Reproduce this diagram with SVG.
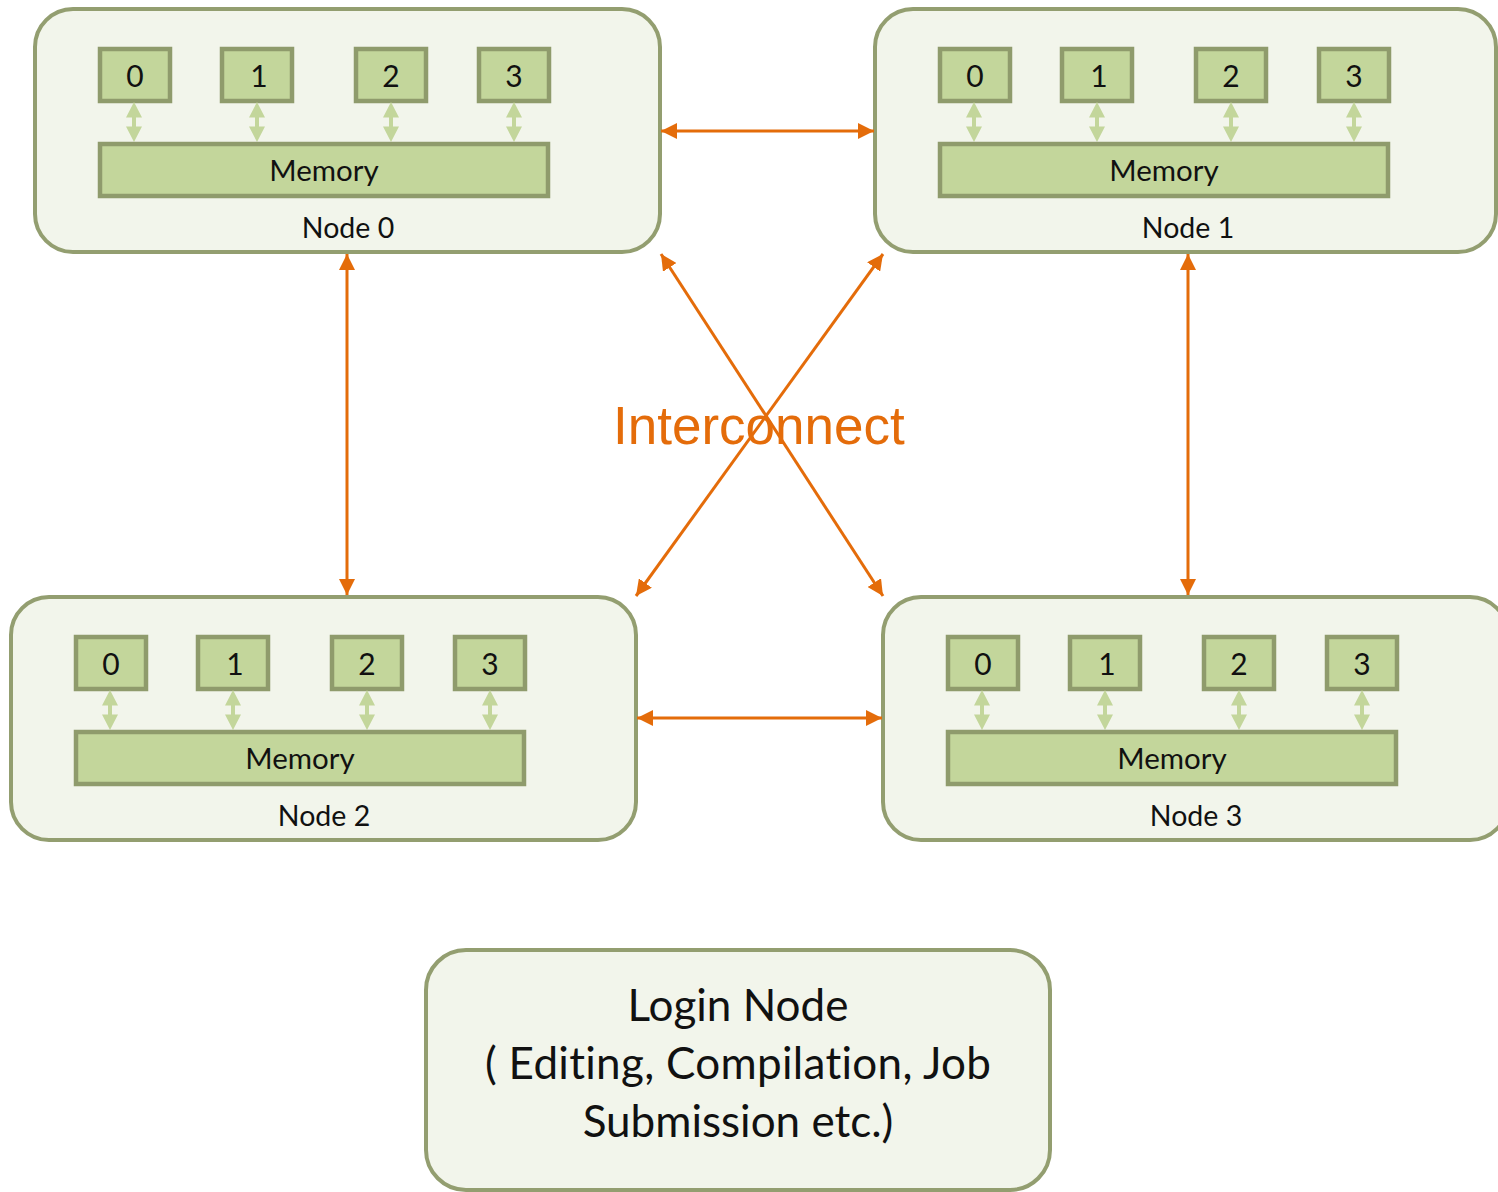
<svg xmlns="http://www.w3.org/2000/svg" width="1498" height="1192" viewBox="0 0 1498 1192">
  <style>
    text { font-variant-ligatures: none; font-feature-settings: "liga" 0, "clig" 0, "dlig" 0; }
    .node { fill: #F2F5EB; stroke: #939E70; stroke-width: 4; }
    .cpu { fill: #C3D69B; stroke: #8F9B6C; stroke-width: 4.5; }
    .mem { fill: #C3D69B; stroke: #8F9B6C; stroke-width: 4.5; }
    .bus { fill: #C3D69B; }
    .num { font-family: Lato, "Open Sans", sans-serif; font-size: 30px; fill: #111; text-anchor: middle; }
    .memtxt { font-family: Lato, "Open Sans", sans-serif; font-size: 29.5px; fill: #111; text-anchor: middle; }
    .label { font-family: Lato, "Open Sans", sans-serif; font-size: 28.5px; fill: #111; text-anchor: middle; }
    .link { stroke: #E46C0A; stroke-width: 3; fill: none; marker-start: url(#tip); marker-end: url(#tip); }
    .title { font-family: "Liberation Sans", Arial, sans-serif; font-size: 53px; fill: #E46C0A; }
    .login { font-family: Lato, "Open Sans", sans-serif; font-size: 44px; fill: #111; text-anchor: middle; }
  </style>
  <defs>
    <marker id="tip" viewBox="0 0 16 16" refX="16" refY="8" markerWidth="16" markerHeight="16" markerUnits="userSpaceOnUse" orient="auto-start-reverse">
      <path d="M0,0 L16,8 L0,16 Z" fill="#E46C0A"/>
    </marker>
    <!-- double-headed bus between a core and memory, centred on its own origin -->
    <path id="bus" class="bus" d="M0,-20 L8,-4.5 L2,-4.5 L2,4.5 L8,4.5 L0,20 L-8,4.5 L-2,4.5 L-2,-4.5 L-8,-4.5 Z"/>
  </defs>

  <rect width="1498" height="1192" fill="#FFFFFF"/>

  <g id="node0">
    <rect class="node" x="35" y="9" width="625" height="243" rx="38"/>
    <rect class="cpu" x="100" y="49" width="70" height="52"/>
    <rect class="cpu" x="222" y="49" width="70" height="52"/>
    <rect class="cpu" x="356" y="49" width="70" height="52"/>
    <rect class="cpu" x="479" y="49" width="70" height="52"/>
    <text class="num" x="135" y="87">0</text>
    <text class="num" x="259" y="87">1</text>
    <text class="num" x="391" y="87">2</text>
    <text class="num" x="514" y="87">3</text>
    <use href="#bus" x="134" y="122"/>
    <use href="#bus" x="257" y="122"/>
    <use href="#bus" x="391" y="122"/>
    <use href="#bus" x="514" y="122"/>
    <rect class="mem" x="100" y="144" width="448" height="52"/>
    <text class="memtxt" x="324" y="181">Memory</text>
    <text class="label" x="348" y="238">Node 0</text>
  </g>

  <g id="node1" transform="translate(840,0)">
    <rect class="node" x="35" y="9" width="621" height="243" rx="38"/>
    <rect class="cpu" x="100" y="49" width="70" height="52"/>
    <rect class="cpu" x="222" y="49" width="70" height="52"/>
    <rect class="cpu" x="356" y="49" width="70" height="52"/>
    <rect class="cpu" x="479" y="49" width="70" height="52"/>
    <text class="num" x="135" y="87">0</text>
    <text class="num" x="259" y="87">1</text>
    <text class="num" x="391" y="87">2</text>
    <text class="num" x="514" y="87">3</text>
    <use href="#bus" x="134" y="122"/>
    <use href="#bus" x="257" y="122"/>
    <use href="#bus" x="391" y="122"/>
    <use href="#bus" x="514" y="122"/>
    <rect class="mem" x="100" y="144" width="448" height="52"/>
    <text class="memtxt" x="324" y="181">Memory</text>
    <text class="label" x="348" y="238">Node 1</text>
  </g>

  <g id="node2" transform="translate(-24,588)">
    <rect class="node" x="35" y="9" width="625" height="243" rx="38"/>
    <rect class="cpu" x="100" y="49" width="70" height="52"/>
    <rect class="cpu" x="222" y="49" width="70" height="52"/>
    <rect class="cpu" x="356" y="49" width="70" height="52"/>
    <rect class="cpu" x="479" y="49" width="70" height="52"/>
    <text class="num" x="135" y="87">0</text>
    <text class="num" x="259" y="87">1</text>
    <text class="num" x="391" y="87">2</text>
    <text class="num" x="514" y="87">3</text>
    <use href="#bus" x="134" y="122"/>
    <use href="#bus" x="257" y="122"/>
    <use href="#bus" x="391" y="122"/>
    <use href="#bus" x="514" y="122"/>
    <rect class="mem" x="100" y="144" width="448" height="52"/>
    <text class="memtxt" x="324" y="181">Memory</text>
    <text class="label" x="348" y="238">Node 2</text>
  </g>

  <g id="node3" transform="translate(848,588)">
    <rect class="node" x="35" y="9" width="625" height="243" rx="38"/>
    <rect class="cpu" x="100" y="49" width="70" height="52"/>
    <rect class="cpu" x="222" y="49" width="70" height="52"/>
    <rect class="cpu" x="356" y="49" width="70" height="52"/>
    <rect class="cpu" x="479" y="49" width="70" height="52"/>
    <text class="num" x="135" y="87">0</text>
    <text class="num" x="259" y="87">1</text>
    <text class="num" x="391" y="87">2</text>
    <text class="num" x="514" y="87">3</text>
    <use href="#bus" x="134" y="122"/>
    <use href="#bus" x="257" y="122"/>
    <use href="#bus" x="391" y="122"/>
    <use href="#bus" x="514" y="122"/>
    <rect class="mem" x="100" y="144" width="448" height="52"/>
    <text class="memtxt" x="324" y="181">Memory</text>
    <text class="label" x="348" y="238">Node 3</text>
  </g>

  <g id="interconnect">
    <line class="link" x1="661" y1="131" x2="874" y2="131"/>
    <line class="link" x1="637" y1="718" x2="882" y2="718"/>
    <line class="link" x1="347" y1="254" x2="347" y2="595"/>
    <line class="link" x1="1188" y1="254" x2="1188" y2="595"/>
    <line class="link" x1="661" y1="254" x2="883" y2="596"/>
    <line class="link" x1="883" y1="254" x2="636" y2="596"/>
    <text class="title" x="613" y="444">Interconnect</text>
  </g>

  <g id="login">
    <rect class="node" x="426" y="950" width="624" height="240" rx="40"/>
    <text class="login" x="738" y="1021">Login Node</text>
    <text class="login" x="738" y="1079" textLength="506">( Editing, Compilation, Job</text>
    <text class="login" x="738" y="1137">Submission etc.)</text>
  </g>
</svg>
